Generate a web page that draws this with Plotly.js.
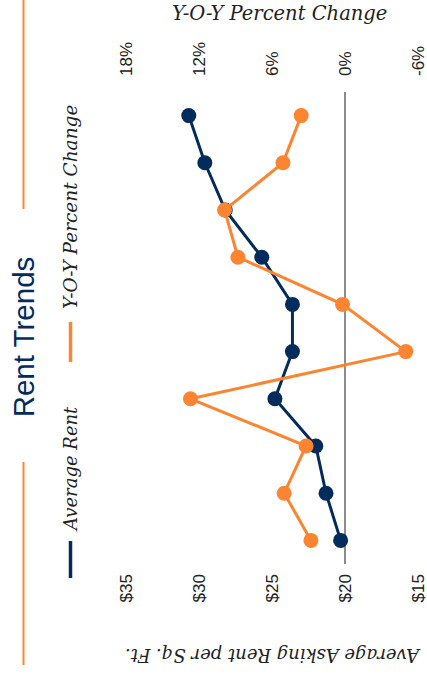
<!DOCTYPE html>
<html>
<head>
<meta charset="utf-8">
<script src="https://cdn.plot.ly/plotly-3.0.1.min.js"></script>
<style>
  html, body { margin:0; padding:0; width:427px; height:684px; overflow:hidden; background:#fff; }
  #wrap { position:absolute; left:0; top:0; width:684px; height:427px;
          transform-origin: 0 0; transform: translate(0px, 684px) rotate(-90deg); }
  #chart { width:684px; height:427px; }
</style>
</head>
<body>
<div id="wrap"><div id="chart"></div></div>
<script>
// ---- data ----
const periods = ['1', '2', '3', '4', '5', '6', '7', '8', '9', '10'];
const averageRent = [20.3, 21.3, 22.0, 24.8, 23.6, 23.6, 25.7, 28.2, 29.6, 30.7];
const yoyChange = [2.8, 5.0, 3.2, 12.7, -5.0, 0.2, 8.8, 9.9, 5.1, 3.6];
const rentTicks = [15, 20, 25, 30, 35];
const pctTicks = [-6, 0, 6, 12, 18];

const NAVY = '#032b5b';
const ORANGE = '#fd8431';
const SERIF = 'DejaVu Serif, serif';
const SANS = 'Liberation Sans, Arial, sans-serif';

// layout geometry (unrotated frame: 684 x 427)
const W = 684, H = 427;
const M = {l: 120, r: 92, t: 126, b: 9};
const PW = W - M.l - M.r, PH = H - M.t - M.b;
const px = ox => (ox - M.l) / PW;
const py = oy => (H - M.b - oy) / PH;

const traces = [
  {x: periods, y: averageRent, name: 'Average Rent', type: 'scatter', mode: 'lines+markers',
   line: {color: NAVY, width: 3}, marker: {color: NAVY, size: 15}, yaxis: 'y', showlegend: false},
  {x: periods, y: yoyChange, name: 'Y-O-Y Percent Change', type: 'scatter', mode: 'lines+markers',
   line: {color: ORANGE, width: 3}, marker: {color: ORANGE, size: 15}, yaxis: 'y2', showlegend: false}
];

const layout = {
  width: W, height: H,
  margin: M,
  paper_bgcolor: '#fff', plot_bgcolor: '#fff',
  showlegend: false,
  title: {text: 'Rent Trends', font: {family: SANS, size: 29.5, color: NAVY},
          x: 347 / W, xanchor: 'center', xref: 'container',
          y: 1 - 23.5 / H, yanchor: 'middle', yref: 'container'},
  xaxis: {type: 'category', range: [-0.5, periods.length - 0.5], showgrid: false, zeroline: false,
          showline: false, showticklabels: false, ticks: '', fixedrange: true},
  yaxis: {range: [15, 35], tickvals: rentTicks, ticktext: rentTicks.map(v => '$' + v),
          showgrid: false, zeroline: false, showline: false, ticks: '',
          ticklabelstandoff: 9, automargin: false, ticklabeloverflow: 'allow',
          tickfont: {family: SANS, size: 17, color: '#222'}},
  yaxis2: {range: [-6, 18], tickvals: pctTicks, ticktext: pctTicks.map(v => v + '%'),
           overlaying: 'y', side: 'right', showgrid: false, zeroline: true,
           zerolinecolor: '#8c8c8c', zerolinewidth: 1.5, showline: false, ticks: '',
           ticklabelstandoff: 15, automargin: false, ticklabeloverflow: 'allow',
           tickfont: {family: SANS, size: 17, color: '#222'}},
  shapes: [
    {type: 'line', xref: 'paper', yref: 'paper', x0: px(19), x1: px(222), y0: py(23.5), y1: py(23.5),
     line: {color: ORANGE, width: 2}},
    {type: 'line', xref: 'paper', yref: 'paper', x0: px(475), x1: px(690), y0: py(23.5), y1: py(23.5),
     line: {color: ORANGE, width: 2}},
    // legend symbols
    {type: 'line', xref: 'paper', yref: 'paper', x0: px(106), x1: px(143), y0: py(70.5), y1: py(70.5),
     line: {color: NAVY, width: 3.5}},
    {type: 'line', xref: 'paper', yref: 'paper', x0: px(322), x1: px(362), y0: py(70.5), y1: py(70.5),
     line: {color: ORANGE, width: 3.5}}
  ],
  annotations: [
    {text: 'Average Rent', xref: 'paper', yref: 'paper', x: px(150), y: py(70.5),
     xanchor: 'left', yanchor: 'middle', showarrow: false,
     font: {family: SERIF, size: 18, style: 'italic', color: '#222'}},
    {text: 'Y-O-Y Percent Change', xref: 'paper', yref: 'paper', x: px(373), y: py(70.5),
     xanchor: 'left', yanchor: 'middle', showarrow: false,
     font: {family: SERIF, size: 18.5, style: 'italic', color: '#222'}},
    {text: 'Average Asking Rent per Sq. Ft.', xref: 'paper', yref: 'paper', x: px(28), y: py(273),
     xanchor: 'center', yanchor: 'middle', textangle: -90, showarrow: false,
     font: {family: SERIF, size: 18, style: 'italic', color: '#222'}},
    {text: 'Y-O-Y Percent Change', xref: 'paper', yref: 'paper', x: px(671), y: py(279),
     xanchor: 'center', yanchor: 'middle', textangle: 90, showarrow: false,
     font: {family: SERIF, size: 19.5, style: 'italic', color: '#222'}}
  ]
};

Plotly.newPlot('chart', traces, layout, {displayModeBar: false, staticPlot: true});
</script>
</body>
</html>
